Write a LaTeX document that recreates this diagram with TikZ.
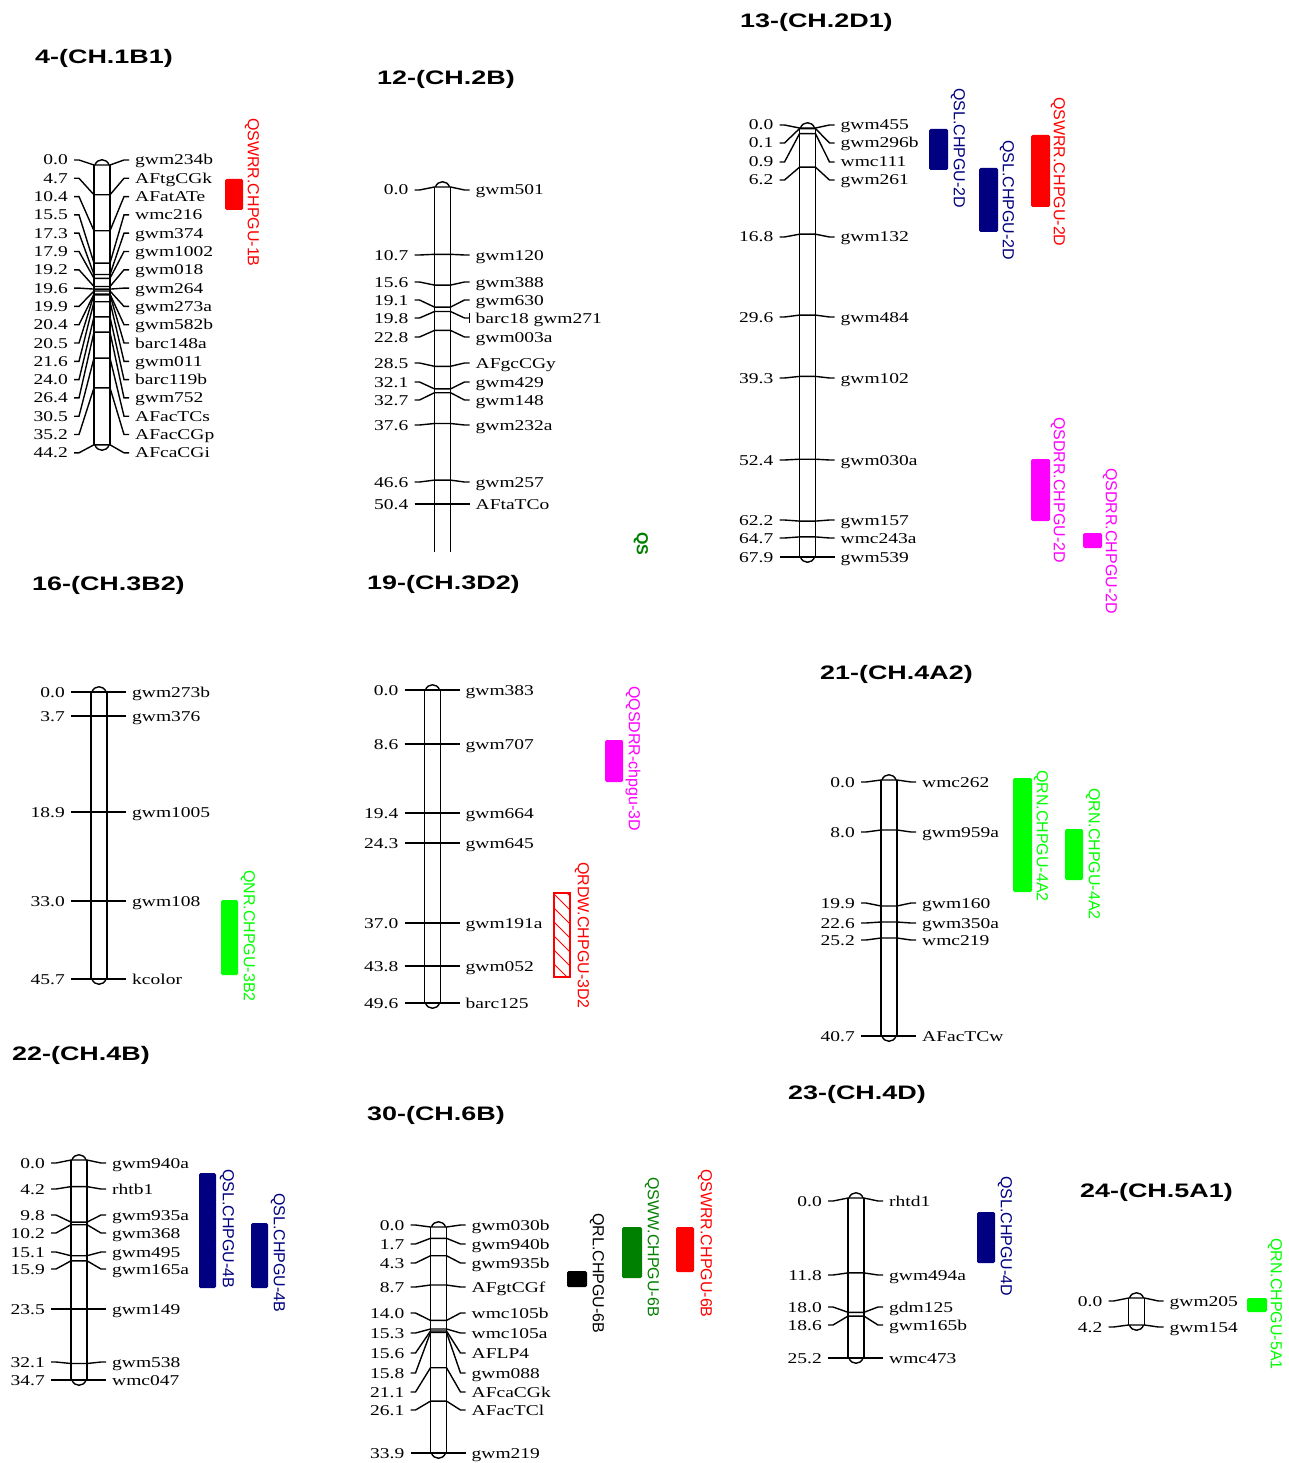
\documentclass[tikz,border=0pt]{standalone}
\usepackage{fontspec}
\usetikzlibrary{patterns}
\newfontfamily\mkfam[FakeStretch=1.3]{Liberation Serif}
\newfontfamily\ttlfam[FakeStretch=1.38]{Liberation Sans}
\newfontfamily\qfam{Liberation Sans}
\definecolor{qred}{RGB}{255,0,0}
\definecolor{qnavy}{RGB}{0,0,128}
\definecolor{qmag}{RGB}{255,0,255}
\definecolor{qlime}{RGB}{0,255,0}
\definecolor{qgreen}{RGB}{0,128,0}
\tikzset{
  bar/.style={line width=1.9pt},
  mkline/.style={line width=1.4pt},
  numtxt/.style={font=\mkfam\fontsize{15}{15}\selectfont, inner sep=0pt, anchor=base east},
  labtxt/.style={font=\mkfam\fontsize{15}{15}\selectfont, inner sep=0pt, anchor=base west},
  ttl/.style={font=\ttlfam\bfseries\fontsize{19.5}{19.5}\selectfont, inner sep=0pt, anchor=base west},
  qlab/.style={font=\qfam\fontsize{16}{16}\selectfont, inner sep=0pt, rotate=-90, anchor=west},
  qbox/.style={fill=#1, draw=none, rounded corners=1.5pt},
}
% bar: xc, ytop, ybot, closed(1/0)
\newcommand\chrbar[4]{%
  \draw[bar] (#1-8,#2) -- (#1-8,#3) (#1+8,#2) -- (#1+8,#3);
  \draw[mkline] (#1-7,#2) .. controls (#1-5,#2-7) and (#1+5,#2-7) .. (#1+7,#2);
  \ifnum#4=1 \draw[mkline] (#1-7,#3) .. controls (#1-5,#3+7) and (#1+5,#3+7) .. (#1+7,#3);\fi
}
% markers: prefix, xc, list ym/yl/num/name
\newcommand\chrmarks[3]{%
  \foreach \ym/\yl/\nm/\mk [count=\i] in {#3} {
    \draw[mkline] (#2-28,\yl) -- (#2-23,\yl) -- (#2-8,\ym) -- (#2+8,\ym) -- (#2+22,\yl) -- (#2+27,\yl);
    \node[numtxt] (#1n\i) at (#2-34,\yl+5) {\nm};
    \node[labtxt] (#1m\i) at (#2+33,\yl+5) {\mk};
  }
}
\begin{document}
\begin{tikzpicture}[x=1pt,y=-1pt]
\path[use as bounding box, fill=white] (0,0) rectangle (1289,1463);

% ---------- 4-(CH.1B1)
\node[ttl] (t1) at (35,64) {4-(CH.1B1)};
\chrbar{102}{165}{445}{1}
\chrmarks{a}{102}{165/160/0.0/gwm234b, 194.8/178.3/4.7/AFtgCGk, 230.8/196.6/10.4/AFatATe,
 263.1/214.9/15.5/wmc216, 274.5/233.2/17.3/gwm374, 278.3/251.5/17.9/gwm1002,
 286.5/269.8/19.2/gwm018, 289.1/288.1/19.6/gwm264, 291/306.4/19.9/gwm273a,
 294.1/324.7/20.4/gwm582b, 294.8/343/20.5/barc148a, 301.7/361.3/21.6/gwm011,
 316.9/379.6/24.0/barc119b, 332.1/397.9/26.4/gwm752, 358.1/416.2/30.5/AFacTCs,
 387.8/434.5/35.2/AFacCGp, 444.8/452.8/44.2/AFcaCGi}
\fill[qbox=qred] (225,179) rectangle (243,210);
\node[qlab, text=qred] (q1) at (252,118) {QSWRR.CHPGU-1B};

% ---------- 12-(CH.2B)
\node[ttl] (t2) at (377,85) {12-(CH.2B)};
\chrbar{442.5}{187}{552}{0}
\chrmarks{b}{442.5}{187/190/0.0/gwm501, 254.3/255/10.7/gwm120, 285.1/282/15.6/gwm388,
 307.1/300/19.1/gwm630, 311.5/318/19.8/barc18 gwm271, 330.4/337/22.8/gwm003a,
 366.3/363/28.5/AFgcCGy, 388.9/382/32.1/gwm429, 392.7/400/32.7/gwm148,
 423.5/425/37.6/gwm232a, 480.1/482/46.6/gwm257, 504/504/50.4/AFtaTCo}
\draw[mkline] (469.5,313) -- (469.5,323);
\node[qlab, text=qgreen, font=\qfam\bfseries\fontsize{16}{16}\selectfont] (q0) at (641,532) {QS};

% ---------- 13-(CH.2D1)
\node[ttl] (t3) at (740,28) {13-(CH.2D1)};
\chrbar{807.5}{128}{557}{1}
\chrmarks{c}{807.5}{128/125/0.0/gwm455, 128.6/143/0.1/gwm296b, 133.7/162/0.9/wmc111,
 167.2/180/6.2/gwm261, 234.2/237/16.8/gwm132, 315.1/317/29.6/gwm484,
 376.4/378/39.3/gwm102, 459.2/460/52.4/gwm030a, 521.1/520/62.2/gwm157,
 536.9/538/64.7/wmc243a, 557/557/67.9/gwm539}
\fill[qbox=qnavy] (929,129) rectangle (948,170);
\node[qlab, text=qnavy] (q2) at (958,88) {QSL.CHPGU-2D};
\fill[qbox=qnavy] (979,168) rectangle (998,232);
\node[qlab, text=qnavy] (q3) at (1007,140) {QSL.CHPGU-2D};
\fill[qbox=qred] (1031,135) rectangle (1050,207);
\node[qlab, text=qred] (q4) at (1058,97) {QSWRR.CHPGU-2D};
\fill[qbox=qmag] (1031,459) rectangle (1050,521);
\node[qlab, text=qmag] (q5) at (1058,417) {QSDRR.CHPGU-2D};
\fill[qbox=qmag] (1083,533) rectangle (1102,548);
\node[qlab, text=qmag] (q6) at (1110,468) {QSDRR.CHPGU-2D};

% ---------- 16-(CH.3B2)
\node[ttl] (t4) at (32,590) {16-(CH.3B2)};
\chrbar{99}{692}{979}{1}
\chrmarks{d}{99}{692/692/0.0/gwm273b, 716/716/3.7/gwm376, 812/812/18.9/gwm1005,
 901/901/33.0/gwm108, 979/979/45.7/kcolor}
\fill[qbox=qlime] (221,900) rectangle (238,975);
\node[qlab, text=qlime] (q7) at (248,870) {QNR.CHPGU-3B2};

% ---------- 19-(CH.3D2)
\node[ttl] (t5) at (367,589) {19-(CH.3D2)};
\chrbar{432.5}{690}{1003}{1}
\chrmarks{e}{432.5}{690/690/0.0/gwm383, 744/744/8.6/gwm707, 813/813/19.4/gwm664,
 843/843/24.3/gwm645, 923/923/37.0/gwm191a, 966/966/43.8/gwm052, 1003/1003/49.6/barc125}
\fill[qbox=qmag] (605,740) rectangle (623,782);
\node[qlab, text=qmag] (q8) at (633,686) {QQSDRR-chpgu-3D};
\begin{scope}
  \clip (554,893) rectangle (570,977);
  \foreach \k in {0,...,7} \draw[qred, line width=1pt] (554,880+\k*14) -- ++(20,20);
\end{scope}
\draw[qred, line width=1.2pt] (554,893) rectangle (570,977);
\node[qlab, text=qred] (q9) at (582,862) {QRDW.CHPGU-3D2};

% ---------- 21-(CH.4A2)
\node[ttl] (t6) at (820,679) {21-(CH.4A2)};
\chrbar{889}{780}{1036}{1}
\chrmarks{f}{889}{780/782/0.0/wmc262, 830/832/8.0/gwm959a, 906/903/19.9/gwm160,
 922/923/22.6/gwm350a, 938/940/25.2/wmc219, 1036/1036/40.7/AFacTCw}
\fill[qbox=qlime] (1013,778) rectangle (1032,892);
\node[qlab, text=qlime] (q10) at (1041,770) {QRN.CHPGU-4A2};
\fill[qbox=qlime] (1065,829) rectangle (1083,880);
\node[qlab, text=qlime] (q11) at (1093,788) {QRN.CHPGU-4A2};

% ---------- 22-(CH.4B)
\node[ttl] (t7) at (12,1060) {22-(CH.4B)};
\chrbar{79}{1160}{1380}{1}
\chrmarks{g}{79}{1160/1163/0.0/gwm940a, 1186.6/1189/4.2/rhtb1, 1222.1/1215/9.8/gwm935a,
 1224.7/1233/10.2/gwm368, 1255.7/1252/15.1/gwm495, 1260.8/1269/15.9/gwm165a,
 1309/1309/23.5/gwm149, 1363.5/1362/32.1/gwm538, 1380/1380/34.7/wmc047}
\fill[qbox=qnavy] (199,1173) rectangle (216,1288);
\node[qlab, text=qnavy] (q12) at (227,1169) {QSL.CHPGU-4B};
\fill[qbox=qnavy] (251,1223) rectangle (268,1288);
\node[qlab, text=qnavy] (q13) at (278,1193) {QSL.CHPGU-4B};

% ---------- 30-(CH.6B)
\node[ttl] (t8) at (367,1120) {30-(CH.6B)};
\chrbar{438.5}{1227}{1453}{1}
\chrmarks{h}{438.5}{1227/1225/0.0/gwm030b, 1238.3/1244/1.7/gwm940b, 1255.7/1263/4.3/gwm935b,
 1285/1287/8.7/AFgtCGf, 1320.4/1313/14.0/wmc105b, 1329/1333/15.3/wmc105a,
 1331/1353/15.6/AFLP4, 1332.4/1373/15.8/gwm088, 1367.7/1392/21.1/AFcaCGk,
 1401.1/1410/26.1/AFacTCl, 1453/1453/33.9/gwm219}
\fill[qbox=black] (567,1271) rectangle (587,1287);
\node[qlab, text=black] (q14) at (597,1213) {QRL.CHPGU-6B};
\fill[qbox=qgreen] (622,1227) rectangle (642,1278);
\node[qlab, text=qgreen] (q15) at (652,1177) {QSWW.CHPGU-6B};
\fill[qbox=qred] (676,1227) rectangle (694,1272);
\node[qlab, text=qred] (q16) at (705,1169) {QSWRR.CHPGU-6B};

% ---------- 23-(CH.4D)
\node[ttl] (t9) at (788,1099) {23-(CH.4D)};
\chrbar{856}{1198}{1358}{1}
\chrmarks{k}{856}{1198/1201/0.0/rhtd1, 1272.9/1275/11.8/gwm494a, 1312.3/1307/18.0/gdm125,
 1316.1/1325/18.6/gwm165b, 1358/1358/25.2/wmc473}
\fill[qbox=qnavy] (977,1212) rectangle (995,1263);
\node[qlab, text=qnavy] (q17) at (1005,1176) {QSL.CHPGU-4D};

% ---------- 24-(CH.5A1)
\node[ttl] (t10) at (1080,1197) {24-(CH.5A1)};
\chrbar{1136.5}{1298}{1325}{1}
\chrmarks{m}{1136.5}{1298/1301/0.0/gwm205, 1325/1327/4.2/gwm154}
\fill[qbox=qlime] (1247,1298) rectangle (1267,1312);
\node[qlab, text=qlime] (q18) at (1275,1238) {QRN.CHPGU-5A1};
\end{tikzpicture}
\end{document}
